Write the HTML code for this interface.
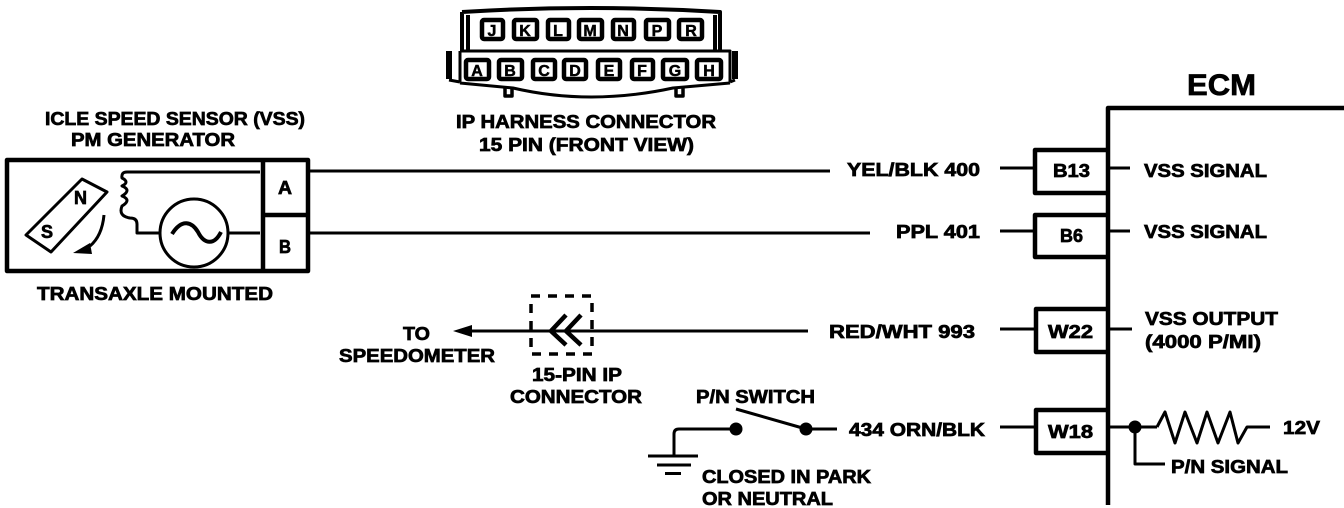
<!DOCTYPE html>
<html lang="en"><head><meta charset="utf-8"><title>VSS wiring diagram</title>
<style>
html,body{margin:0;padding:0;background:#fff;width:1344px;height:508px;overflow:hidden}
svg{display:block}
text{font-family:"Liberation Sans",sans-serif;font-weight:bold;font-size:18px;fill:#000;stroke:#000;stroke-width:.7;dominant-baseline:alphabetic}
text.p{font-size:16px;stroke-width:.5}
.l{fill:none;stroke:#000;stroke-width:3;stroke-linejoin:round}
.t{fill:none;stroke:#000;stroke-width:4.5;stroke-linejoin:round}
.pin{fill:#fff;stroke:#000;stroke-width:4.5}
</style></head><body>
<svg width="1344" height="508" viewBox="0 0 1344 508" xmlns="http://www.w3.org/2000/svg">
<path class="t" d="M462 12Q590 4 720 12L720 50M462 12L462 50" style="stroke-width:4"/>
<path class="t" d="M468 15L468 50M715 15L715 50" style="stroke-width:4"/>
<path class="t" d="M449 51L449 79M735 51L735 79" style="stroke-width:6"/>
<path class="l" d="M460 51H730V82M460 51V82M449 80L460 82M735 80L730 82M460 83L513 88Q590 106 673 88L730 83"/>
<path class="t" d="M505 87V96H512V87M676 87V96H683V87" style="stroke-width:3.5"/>
<g>
<rect class="pin" x="482" y="20" width="21" height="19" rx="2"/><rect class="pin" x="514" y="20" width="23" height="19" rx="2"/><rect class="pin" x="548" y="20" width="21" height="19" rx="2"/><rect class="pin" x="579" y="20" width="23" height="19" rx="2"/><rect class="pin" x="613" y="20" width="21" height="19" rx="2"/><rect class="pin" x="646" y="20" width="23" height="19" rx="2"/><rect class="pin" x="679" y="20" width="23" height="19" rx="2"/>
<rect class="pin" x="466" y="60" width="23" height="19" rx="2"/><rect class="pin" x="499" y="60" width="23" height="19" rx="2"/><rect class="pin" x="533" y="60" width="22" height="19" rx="2"/><rect class="pin" x="564" y="60" width="22" height="19" rx="2"/><rect class="pin" x="598" y="60" width="22" height="19" rx="2"/><rect class="pin" x="632" y="60" width="21" height="19" rx="2"/><rect class="pin" x="663" y="60" width="24" height="19" rx="2"/><rect class="pin" x="697" y="60" width="24" height="19" rx="2"/>
</g>
<g text-anchor="middle">
<text class="p" x="492" y="36">J</text><text class="p" x="525" y="36">K</text><text class="p" x="558" y="36">L</text><text class="p" x="590" y="36">M</text><text class="p" x="623" y="36">N</text><text class="p" x="657" y="36">P</text><text class="p" x="691" y="36">R</text>
<text class="p" x="477" y="76">A</text><text class="p" x="510" y="76">B</text><text class="p" x="544" y="76">C</text><text class="p" x="575" y="76">D</text><text class="p" x="609" y="76">E</text><text class="p" x="642" y="76">F</text><text class="p" x="675" y="76">G</text><text class="p" x="709" y="76">H</text>
</g>
<text x="456" y="128" textLength="260" lengthAdjust="spacingAndGlyphs">IP HARNESS CONNECTOR</text>
<text x="479" y="151" textLength="215" lengthAdjust="spacingAndGlyphs">15 PIN (FRONT VIEW)</text>
<text x="45" y="125" textLength="260" lengthAdjust="spacingAndGlyphs">ICLE SPEED SENSOR (VSS)</text>
<text x="71" y="146" textLength="164" lengthAdjust="spacingAndGlyphs">PM GENERATOR</text>
<text x="37" y="300" textLength="236" lengthAdjust="spacingAndGlyphs">TRANSAXLE MOUNTED</text>

<rect class="t" x="7" y="160" width="301" height="111" />
<path class="t" d="M263 160V271M263 215H308"/>
<text x="278" y="194" textLength="14" lengthAdjust="spacingAndGlyphs">A</text>
<text x="279" y="253" textLength="12" lengthAdjust="spacingAndGlyphs">B</text>
<path class="l" d="M310 171H830M310 233H870"/>
<path class="l" d="M82 179L107 192L51 252L26 235Z"/>
<text x="74" y="204">N</text><text x="41" y="238">S</text>
<path class="l" d="M104 215Q102 236 90 246" style="stroke-width:3"/>
<path d="M73 253L90 243L92 254Z"/>
<path class="l" d="M260 172H127Q121 172 122 178Q130 182 122 186Q132 190 122 196Q132 200 122 206Q118 216 130 218Q137 218 137 224V233H160"/>
<circle class="l" cx="194" cy="233" r="34"/>
<path class="l" d="M228 233H260"/>
<path class="l" style="stroke-width:4" d="M172 234C182 218 192 222 198 232C204 244 214 246 221 232"/>

<path class="l" d="M470 331H808" style="stroke-width:3"/>
<path d="M453 331L472 325V337Z"/>
<path class="t" style="stroke-width:3.5;stroke-dasharray:9 8" d="M531 296H592V354H531Z"/>
<path class="t" style="stroke-linejoin:miter" d="M566 315L551 331L566 345M581 315L566 331L581 345"/>
<text x="403" y="340" textLength="27" lengthAdjust="spacingAndGlyphs">TO</text>
<text x="339" y="362" textLength="156" lengthAdjust="spacingAndGlyphs">SPEEDOMETER</text>
<text x="532" y="381" textLength="90" lengthAdjust="spacingAndGlyphs">15-PIN IP</text>
<text x="510" y="403" textLength="132" lengthAdjust="spacingAndGlyphs">CONNECTOR</text>

<text x="847" y="176" textLength="133" lengthAdjust="spacingAndGlyphs">YEL/BLK 400</text>
<text x="896" y="238" textLength="84" lengthAdjust="spacingAndGlyphs">PPL 401</text>
<text x="829" y="338" textLength="146" lengthAdjust="spacingAndGlyphs">RED/WHT 993</text>
<text x="849" y="436" textLength="136" lengthAdjust="spacingAndGlyphs">434 ORN/BLK</text>

<text x="1187" y="95" style="font-size:30px" textLength="69" lengthAdjust="spacingAndGlyphs">ECM</text>
<path class="t" d="M1344 108H1108V505"/>
<path class="t" d="M1108 150H1035V193H1108M1108 215H1035V257H1108M1108 309H1036V352H1108M1108 410H1036V453H1108"/>
<path class="l" d="M1000 168H1033M1000 231H1033M1000 329H1034M1000 427H1034M1110 168H1130M1110 231H1130M1110 329H1132M1110 427H1157"/>
<text x="1053" y="177" textLength="37" lengthAdjust="spacingAndGlyphs">B13</text>
<text x="1060" y="242" textLength="23" lengthAdjust="spacingAndGlyphs">B6</text>
<text x="1048" y="338" textLength="45" lengthAdjust="spacingAndGlyphs">W22</text>
<text x="1048" y="438" textLength="45" lengthAdjust="spacingAndGlyphs">W18</text>
<text x="1144" y="177" textLength="123" lengthAdjust="spacingAndGlyphs">VSS SIGNAL</text>
<text x="1144" y="238" textLength="123" lengthAdjust="spacingAndGlyphs">VSS SIGNAL</text>
<text x="1145" y="325" textLength="133" lengthAdjust="spacingAndGlyphs">VSS OUTPUT</text>
<text x="1145" y="348" textLength="116" lengthAdjust="spacingAndGlyphs">(4000 P/MI)</text>
<circle cx="1135" cy="427" r="6.5"/>
<path class="l" d="M1157 427L1165 412L1175 443L1185 412L1197 443L1207 412L1218 443L1230 412L1238 443L1247 427H1270"/>
<path class="l" d="M1135 427V464H1165"/>
<text x="1283" y="434" textLength="37" lengthAdjust="spacingAndGlyphs">12V</text>
<text x="1171" y="473" textLength="117" lengthAdjust="spacingAndGlyphs">P/N SIGNAL</text>

<text x="696" y="403" textLength="119" lengthAdjust="spacingAndGlyphs">P/N SWITCH</text>
<circle cx="736" cy="429" r="6.5"/><circle cx="806" cy="429" r="6.5"/>
<path class="l" d="M736 409L806 429H837M736 429H679Q674 429 674 434V456M648 456H698M657 465H691"/>
<path d="M665 472H681V475H665Z"/>
<text x="702" y="483" textLength="169" lengthAdjust="spacingAndGlyphs">CLOSED IN PARK</text>
<text x="702" y="505" textLength="131" lengthAdjust="spacingAndGlyphs">OR NEUTRAL</text>
</svg>
</body></html>
